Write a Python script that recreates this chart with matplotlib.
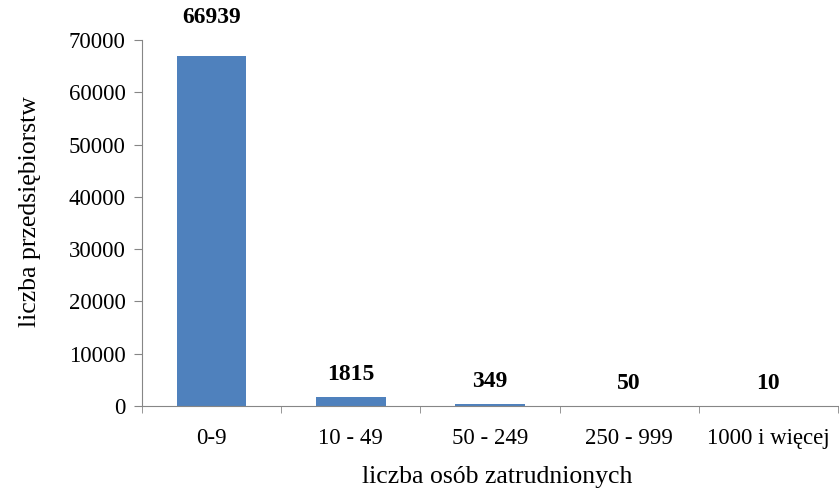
import matplotlib
matplotlib.use('Agg')
import matplotlib.pyplot as plt
import numpy as np

categories = ['0-9', '10 - 49', '50 - 249', '250 - 999', '1000 i więcej']
values = [66939, 1815, 349, 50, 10]

plt.rcParams['font.family'] = ['Liberation Serif', 'DejaVu Serif']

fig = plt.figure(figsize=(8.39, 4.9), dpi=100)
ax = fig.add_axes([0.1693, 0.1714, 0.8295, 0.747])

x = np.arange(len(categories))
bars = ax.bar(x, values, width=0.5, color='#4F81BD')

# labels sit a bit above the bars, the tall one further out (as in the source)
for i, (xi, v) in enumerate(zip(x, values)):
    off = 28 if i == 0 else 16
    ax.annotate(str(v), (xi, v), xytext=(0, off), textcoords='offset points',
                ha='center', va='center', fontsize=17, fontweight='bold',
                annotation_clip=False)

ax.set_xlim(-0.5, len(categories) - 0.5)
ax.set_ylim(0, 70000)
ax.set_yticks(np.arange(0, 70001, 10000))
ax.set_xticks(x)
ax.set_xticklabels(categories)
ax.set_xticks(np.arange(-0.5, len(categories), 1), minor=True)
ax.tick_params(axis='x', which='major', length=0, pad=16, labelsize=16.5)
ax.tick_params(axis='x', which='minor', length=5, color='#868686')
ax.tick_params(axis='y', length=6, color='#868686', labelsize=16.5, pad=6)

for s in ['top', 'right']:
    ax.spines[s].set_visible(False)
for s in ['left', 'bottom']:
    ax.spines[s].set_color('#868686')

ax.set_xlabel('liczba osób zatrudnionych', fontsize=18.5)
ax.set_ylabel('liczba przedsiębiorstw', fontsize=18.5)
ax.xaxis.set_label_coords(0.51, -0.164)
ax.yaxis.set_label_coords(-0.145, 0.53)

fig.savefig('out.png', dpi=100)
